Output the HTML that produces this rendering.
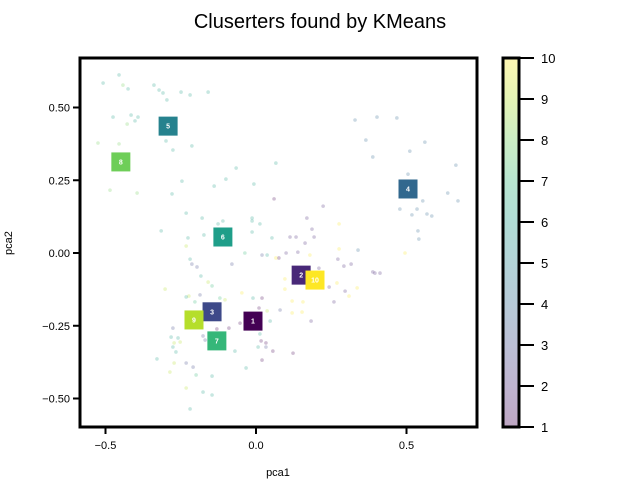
<!DOCTYPE html>
<html><head><meta charset="utf-8"><style>
body{margin:0;background:#fff;}
svg{display:block;font-family:"Liberation Sans","DejaVu Sans",sans-serif;}
</style></head><body>
<svg id="chart" width="640" height="480" viewBox="0 0 640 480">
<defs>
<linearGradient id="vir" x1="0" y1="1" x2="0" y2="0">
<stop offset="0" stop-color="#440154"/><stop offset="0.11" stop-color="#482878"/><stop offset="0.22" stop-color="#3e4989"/><stop offset="0.33" stop-color="#31688e"/><stop offset="0.44" stop-color="#26828e"/><stop offset="0.56" stop-color="#1f9e89"/><stop offset="0.67" stop-color="#35b779"/><stop offset="0.78" stop-color="#6ece58"/><stop offset="0.89" stop-color="#b5de2b"/><stop offset="1" stop-color="#fde725"/>
</linearGradient>
</defs>
<text x="320" y="28" text-anchor="middle" font-size="20">Cluserters found by KMeans</text>
<g id="points"></g>
<g id="centers"></g>
<rect x="80" y="58" width="397" height="369" fill="none" stroke="#000" stroke-width="3"/>
<g id="axes"></g>
<text x="278" y="476" text-anchor="middle" font-size="11">pca1</text>
<text x="12" y="243" text-anchor="middle" font-size="11" transform="rotate(-90 12 243)">pca2</text>
<g>
<rect x="503" y="58" width="16" height="369" fill="url(#vir)" opacity="0.35"/>
<rect x="503" y="58" width="16" height="369" fill="none" stroke="#000" stroke-width="3"/>
<g id="cbticks"></g>
</g>
</svg>
<script>
const xTicks=[-0.5,0.0,0.5];
const xTickLabels=["−0.5","0.0","0.5"];
const yTicks=[0.5,0.25,0,-0.25,-0.5];
const yTickLabels=["0.50","0.25","0.00","−0.25","−0.50"];
const cbTicks=[1,2,3,4,5,6,7,8,9,10];
const centerX=[-0.01,0.15,-0.146,0.505,-0.292,-0.11,-0.13,-0.449,-0.206,0.196];
const centerY=[-0.234,-0.076,-0.202,0.220,0.436,0.055,-0.302,0.313,-0.230,-0.093];
const centerLabels=[1,2,3,4,5,6,7,8,9,10];
const pointX=[-0.508,-0.455,-0.442,-0.425,-0.339,-0.322,-0.309,-0.296,-0.249,-0.219,-0.159,-0.475,-0.415,-0.392,-0.402,-0.428,-0.525,-0.455,-0.299,-0.276,-0.213,-0.066,0.066,-0.246,-0.139,-0.100,-0.007,-0.485,-0.395,-0.279,0.060,-0.232,-0.179,-0.126,-0.110,-0.013,-0.013,0.013,-0.315,-0.173,-0.226,-0.013,0.053,
0.329,0.402,0.468,0.365,0.561,0.511,0.388,0.664,0.505,0.637,0.671,0.554,0.478,0.535,0.518,0.568,0.584,0.538,0.541,0.223,0.169,0.276,0.186,0.113,0.133,0.193,0.495,0.412,0.388,
-0.232,-0.219,-0.213,-0.196,-0.183,-0.159,-0.146,-0.302,-0.223,-0.232,-0.186,-0.203,-0.120,-0.103,-0.080,-0.037,0.020,0.037,0.076,0.066,0.100,0.139,0.163,0.179,0.209,0.276,0.272,0.292,0.316,0.339,0.395,0.096,0.096,0.243,0.269,0.296,0.336,0.309,0.259,0.120,0.156,0.020,-0.047,-0.010,0.010,0.037,0.080,0.120,0.153,0.183,-0.053,-0.090,-0.130,-0.276,-0.176,-0.169,0.047,0.013,0.017,0.033,0.033,0.056,0.123,-0.070,0.007,-0.282,-0.259,-0.272,-0.252,-0.276,-0.266,-0.329,0.020,-0.232,-0.209,-0.272,-0.033,-0.286,-0.199,-0.146,-0.232,-0.176,-0.146,-0.219];
const pointY=[0.584,0.612,0.577,0.564,0.577,0.560,0.550,0.526,0.553,0.543,0.553,0.467,0.474,0.467,0.454,0.443,0.378,0.375,0.385,0.354,0.368,0.292,0.309,0.247,0.230,0.254,0.237,0.216,0.206,0.203,0.186,0.137,0.120,0.100,0.110,0.120,0.110,0.100,0.076,0.062,0.052,0.072,0.052,
0.457,0.467,0.464,0.388,0.381,0.350,0.330,0.302,0.271,0.206,0.179,0.179,0.151,0.151,0.131,0.134,0.127,0.076,0.048,0.161,0.120,0.100,0.082,0.055,0.055,0.055,0.0,-0.069,-0.065,
0.024,-0.021,-0.038,-0.048,-0.079,-0.100,-0.113,-0.124,-0.148,-0.151,-0.144,-0.168,-0.155,-0.161,-0.038,0.0,-0.007,-0.007,-0.017,-0.017,0.0,0.003,0.034,-0.007,-0.052,0.014,-0.021,-0.045,-0.038,0.010,-0.069,-0.089,-0.124,-0.117,-0.103,-0.131,-0.120,-0.148,-0.168,-0.165,-0.168,-0.155,-0.137,-0.155,-0.189,-0.199,-0.196,-0.206,-0.203,-0.234,-0.241,-0.258,-0.261,-0.258,-0.285,-0.299,-0.234,-0.278,-0.302,-0.309,-0.323,-0.337,-0.344,-0.337,-0.323,-0.289,-0.292,-0.309,-0.306,-0.323,-0.340,-0.364,-0.368,-0.378,-0.392,-0.378,-0.395,-0.409,-0.419,-0.423,-0.464,-0.478,-0.488,-0.536];
const pointCluster=[6,6,8,6,6,6,6,6,6,6,6,6,6,6,6,8,8,8,6,6,6,6,6,6,6,6,6,8,8,6,1,6,6,6,6,6,6,6,6,6,6,6,6,
4,4,4,4,4,4,4,4,4,4,4,4,4,4,4,4,4,4,4,2,2,10,2,2,2,2,10,2,2,
9,6,3,3,6,9,7,9,9,6,3,7,7,9,3,7,3,6,1,10,2,2,2,10,2,10,2,2,2,4,2,10,10,2,10,2,10,10,2,10,10,1,10,6,1,9,3,10,10,2,1,1,1,3,3,3,6,6,1,1,3,1,1,6,6,6,6,9,9,6,6,6,1,3,3,9,6,9,7,6,9,6,6,6];
const colors=["#440154","#482878","#3e4989","#31688e","#26828e","#1f9e89","#35b779","#6ece58","#b5de2b","#fde725"];
const NS="http://www.w3.org/2000/svg";
const X0=80,X1=477,Y0=58,Y1=427;
const xmin=-0.5847,xmax=0.7342,ymin=-0.5979,ymax=0.6701;
function sx(v){return X0+(v-xmin)/(xmax-xmin)*(X1-X0);}
function sy(v){return Y1-(v-ymin)/(ymax-ymin)*(Y1-Y0);}
function cy(v){return 427-(v-1)/9*369;}
function mk(tag,attrs,parent){const e=document.createElementNS(NS,tag);for(const k in attrs)e.setAttribute(k,attrs[k]);parent.appendChild(e);return e;}
const gp=document.getElementById('points');
for(let i=0;i<pointX.length;i++){
 const c=mk('circle',{cx:sx(pointX[i]),cy:sy(pointY[i]),r:1.8,fill:colors[pointCluster[i]-1],'fill-opacity':0.25},gp);
 
 
}
const gc=document.getElementById('centers');
for(let i=0;i<centerX.length;i++){
 const x=sx(centerX[i]),y=sy(centerY[i]);
 const r=mk('rect',{x:x-9.5,y:y-9.5,width:19,height:19,fill:colors[centerLabels[i]-1]},gc);
 
 
 const t=mk('text',{x:x,y:y+2.5,'text-anchor':'middle','font-size':7,'font-weight':'bold',fill:'#fff'},gc);
 t.textContent=centerLabels[i];
 
 
}
const ga=document.getElementById('axes');
xTicks.forEach((v,i)=>{
 const x=sx(v);
 mk('line',{x1:x,x2:x,y1:427,y2:434,stroke:'#000','stroke-width':2},ga);
 const t=mk('text',{x:x,y:449,'text-anchor':'middle','font-size':11},ga);
 t.textContent=xTickLabels[i];
 
 
});
yTicks.forEach((v,i)=>{
 const y=sy(v);
 mk('line',{x1:73,x2:80,y1:y,y2:y,stroke:'#000','stroke-width':2},ga);
 const t=mk('text',{x:70,y:y+4,'text-anchor':'end','font-size':11},ga);
 t.textContent=yTickLabels[i];
 
 
});
const gt=document.getElementById('cbticks');
cbTicks.forEach(v=>{
 const y=cy(v);
 mk('line',{x1:519,x2:534,y1:y,y2:y,stroke:'#000','stroke-width':2},gt);
 const t=mk('text',{x:541,y:y+5,'font-size':13},gt);
 t.textContent=v;
 
 
});
</script>
</body></html>
